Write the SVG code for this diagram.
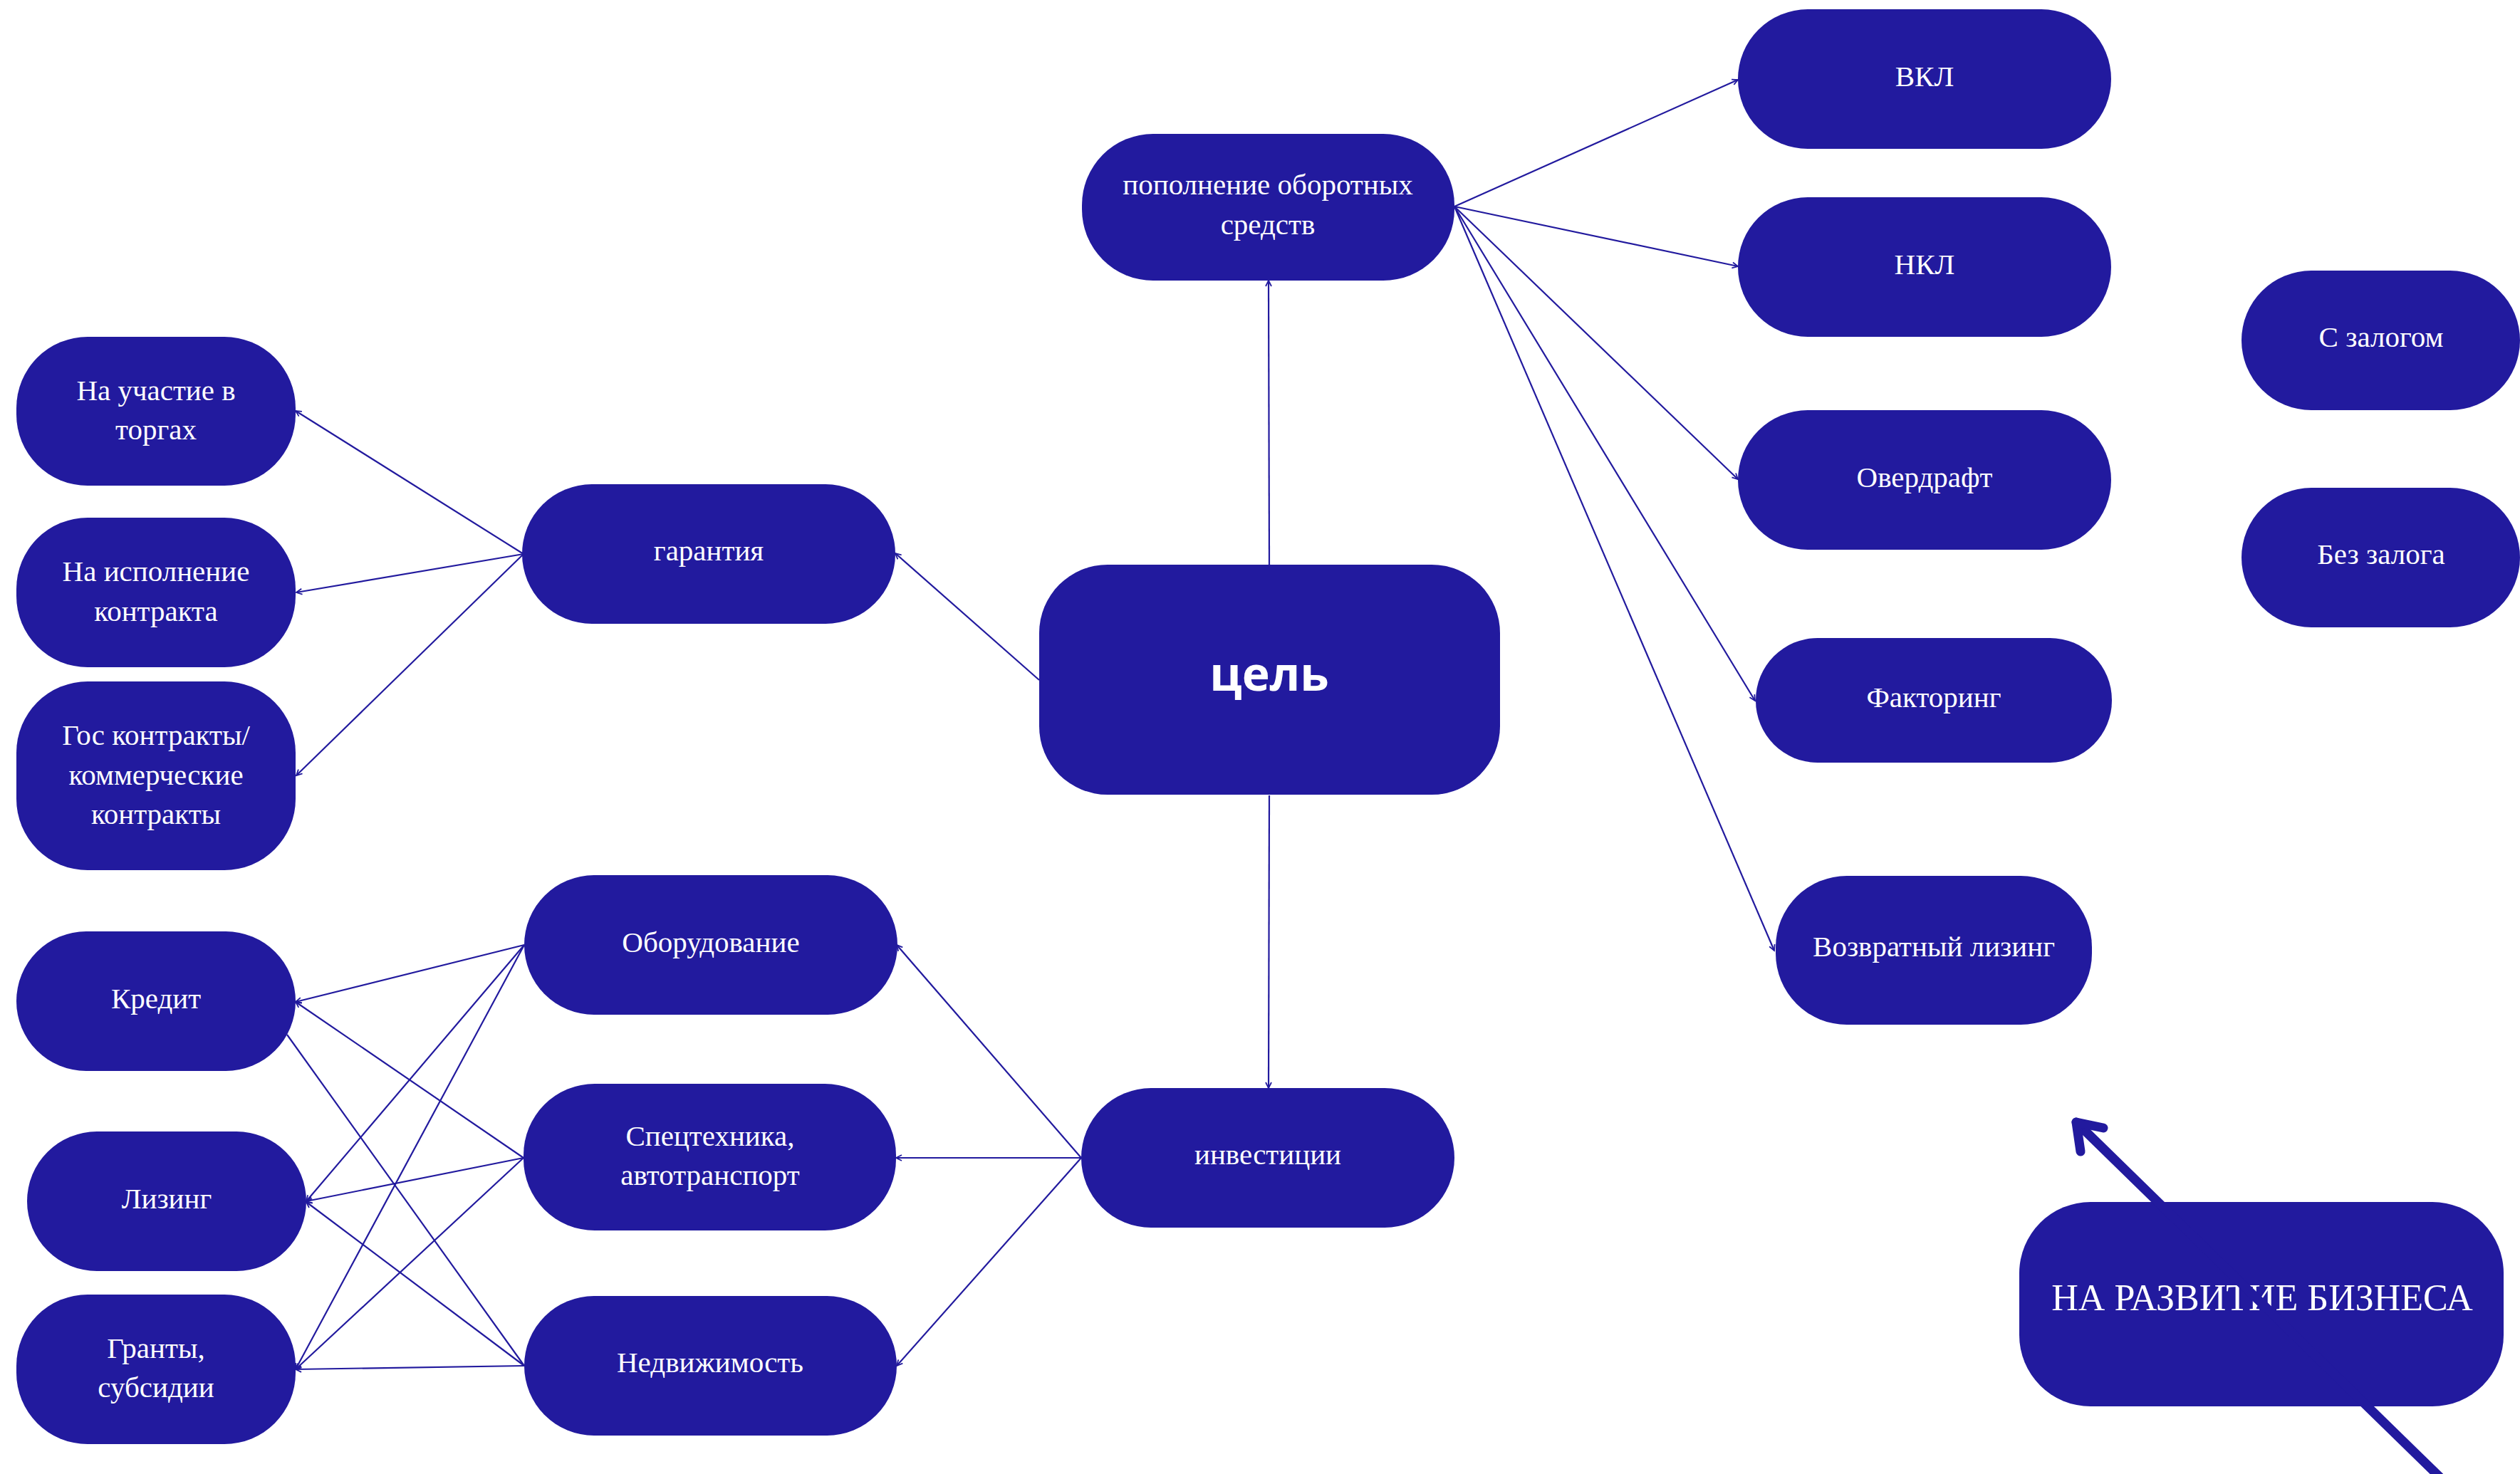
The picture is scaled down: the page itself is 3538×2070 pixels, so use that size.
<svg xmlns="http://www.w3.org/2000/svg" width="3538" height="2070" viewBox="0 0 3538 2070">
<defs>
<style>
.n{fill:#221a9e}
.t{fill:#ffffff;font-family:"Liberation Serif","Times New Roman",serif;font-size:41px;text-anchor:middle}
.big{font-size:52px}
.bold{font-family:"Open Sans","Noto Sans","DejaVu Sans",sans-serif;font-weight:bold;font-size:66px}
.c{fill:none;stroke:#221a9e;stroke-width:2.2}
.thick{fill:none;stroke:#221a9e;stroke-width:13;stroke-linecap:round;stroke-linejoin:round}
</style>
<marker id="ah" viewBox="-10 -6 12 12" refX="0" refY="0" markerWidth="12" markerHeight="12" markerUnits="userSpaceOnUse" orient="auto">
<path d="M-8,-4 L0,0 L-8,4" fill="none" stroke="#221a9e" stroke-width="1.8"/>
</marker>
</defs>
<rect width="3538" height="2070" fill="#ffffff"/>

<g id="node-cel"><rect class="n" x="1459" y="793" width="647" height="323" rx="96"/><text class="t bold" x="1782" y="970">цель</text></g>
<g id="node-popolnenie"><rect class="n" x="1519" y="188" width="523" height="206" rx="100"/><text class="t" x="1780" y="273">пополнение оборотных</text><text class="t" x="1780" y="329">средств</text></g>
<g id="node-investicii"><rect class="n" x="1518" y="1528" width="524" height="196" rx="98"/><text class="t" x="1780" y="1635">инвестиции</text></g>
<g id="node-garantiya"><rect class="n" x="733" y="680" width="524" height="196" rx="98"/><text class="t" x="995" y="787">гарантия</text></g>
<g id="node-uchastie"><rect class="n" x="23" y="473" width="392" height="209" rx="100"/><text class="t" x="219" y="562">На участие в</text><text class="t" x="219" y="617">торгах</text></g>
<g id="node-ispolnenie"><rect class="n" x="23" y="727" width="392" height="210" rx="100"/><text class="t" x="219" y="816">На исполнение</text><text class="t" x="219" y="872">контракта</text></g>
<g id="node-gos"><rect class="n" x="23" y="957" width="392" height="265" rx="100"/><text class="t" x="219" y="1046">Гос контракты/</text><text class="t" x="219" y="1102">коммерческие</text><text class="t" x="219" y="1157">контракты</text></g>
<g id="node-kredit"><rect class="n" x="23" y="1308" width="392" height="196" rx="98"/><text class="t" x="219" y="1416">Кредит</text></g>
<g id="node-lizing"><rect class="n" x="38" y="1589" width="392" height="196" rx="98"/><text class="t" x="234" y="1697">Лизинг</text></g>
<g id="node-granty"><rect class="n" x="23" y="1818" width="392" height="210" rx="100"/><text class="t" x="219" y="1907">Гранты,</text><text class="t" x="219" y="1962">субсидии</text></g>
<g id="node-oborudovanie"><rect class="n" x="736" y="1229" width="524" height="196" rx="98"/><text class="t" x="998" y="1337">Оборудование</text></g>
<g id="node-spectehnika"><rect class="n" x="735" y="1522" width="523" height="206" rx="100"/><text class="t" x="997" y="1609">Спецтехника,</text><text class="t" x="997" y="1664">автотранспорт</text></g>
<g id="node-nedvizhimost"><rect class="n" x="736" y="1820" width="523" height="196" rx="98"/><text class="t" x="997" y="1927">Недвижимость</text></g>
<g id="node-vkl"><rect class="n" x="2440" y="13" width="524" height="196" rx="98"/><text class="t" x="2702" y="121">ВКЛ</text></g>
<g id="node-nkl"><rect class="n" x="2440" y="277" width="524" height="196" rx="98"/><text class="t" x="2702" y="385">НКЛ</text></g>
<g id="node-overdraft"><rect class="n" x="2440" y="576" width="524" height="196" rx="98"/><text class="t" x="2702" y="684">Овердрафт</text></g>
<g id="node-factoring"><rect class="n" x="2465" y="896" width="500" height="175" rx="87"/><text class="t" x="2715" y="993">Факторинг</text></g>
<g id="node-vozvrat"><rect class="n" x="2493" y="1230" width="444" height="209" rx="100"/><text class="t" x="2715" y="1343">Возвратный лизинг</text></g>
<g id="node-s-zalogom"><rect class="n" x="3147" y="380" width="391" height="196" rx="98"/><text class="t" x="3343" y="487">С залогом</text></g>
<g id="node-bez-zaloga"><rect class="n" x="3147" y="685" width="391" height="196" rx="98"/><text class="t" x="3343" y="792">Без залога</text></g>
<g id="node-razvitie"><rect class="n" x="2835" y="1688" width="680" height="287" rx="100"/><text class="t big" x="3176" y="1840">НА РАЗВИТИЕ БИЗНЕСА</text></g>

<g id="connectors">
<line class="c" x1="1782" y1="793" x2="1781" y2="394" marker-end="url(#ah)"/>
<line class="c" x1="1782" y1="1117" x2="1781" y2="1528" marker-end="url(#ah)"/>
<line class="c" x1="1459" y1="955" x2="1257" y2="777" marker-end="url(#ah)"/>
<line class="c" x1="735" y1="778" x2="415" y2="577" marker-end="url(#ah)"/>
<line class="c" x1="735" y1="778" x2="416" y2="832" marker-end="url(#ah)"/>
<line class="c" x1="735" y1="778" x2="416" y2="1089" marker-end="url(#ah)"/>
<line class="c" x1="2042" y1="290" x2="2440" y2="112" marker-end="url(#ah)"/>
<line class="c" x1="2042" y1="290" x2="2440" y2="374" marker-end="url(#ah)"/>
<line class="c" x1="2042" y1="290" x2="2440" y2="673" marker-end="url(#ah)"/>
<line class="c" x1="2042" y1="290" x2="2464" y2="984" marker-end="url(#ah)"/>
<line class="c" x1="2042" y1="290" x2="2491" y2="1335" marker-end="url(#ah)"/>
<line class="c" x1="1518" y1="1626" x2="1259" y2="1327" marker-end="url(#ah)"/>
<line class="c" x1="1518" y1="1626" x2="1258" y2="1626" marker-end="url(#ah)"/>
<line class="c" x1="1518" y1="1626" x2="1259" y2="1918" marker-end="url(#ah)"/>
<line class="c" x1="736" y1="1327" x2="415" y2="1407" marker-end="url(#ah)"/>
<line class="c" x1="736" y1="1327" x2="430" y2="1687" marker-end="url(#ah)"/>
<line class="c" x1="736" y1="1327" x2="415" y2="1923" marker-end="url(#ah)"/>
<line class="c" x1="735" y1="1626" x2="415" y2="1407" marker-end="url(#ah)"/>
<line class="c" x1="735" y1="1626" x2="430" y2="1687" marker-end="url(#ah)"/>
<line class="c" x1="735" y1="1626" x2="415" y2="1923" marker-end="url(#ah)"/>
<line class="c" x1="736" y1="1918" x2="403" y2="1453"/>
<line class="c" x1="736" y1="1918" x2="430" y2="1688" marker-end="url(#ah)"/>
<line class="c" x1="736" y1="1918" x2="415" y2="1923" marker-end="url(#ah)"/>
<path class="thick" d="M3425,2074 L2915,1576"/>
<path class="thick" d="M2953,1584 L2915,1576 L2921,1617"/>
</g>
</svg>
